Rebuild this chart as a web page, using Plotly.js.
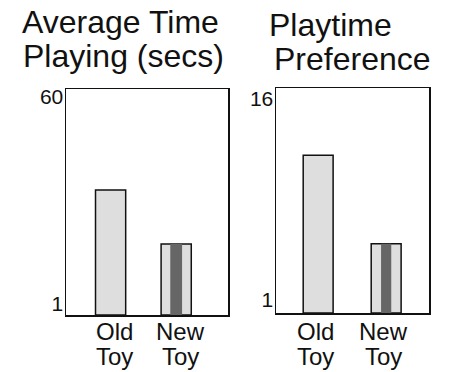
<!DOCTYPE html>
<html>
<head>
<meta charset="utf-8">
<script src="https://cdn.plot.ly/plotly-3.0.1.min.js"></script>
<style>html,body{margin:0;padding:0;background:#fff;}#chart{width:452px;height:372px;}</style>
</head>
<body>
<div id="chart"></div>
<script>
// ---- data ----
const categories = ["Old Toy", "New Toy"];
const timeValues = [33.5, 18.1];          // Average Time Playing (secs)
const prefValues = [11.8, 5.2];           // Playtime Preference
const timeTicks = [1, 60];
const prefTicks = [1, 16];
const timeTitle = ["Average Time", "Playing (secs)"];
const prefTitle = ["Playtime", "Preference"];

// ---- layout helpers ----
const timeRange = [-2.1, 62.3];
const prefRange = [0.03, 16.82];
const light = "#dedede", dark = "#666666";

function mainBar(vals, xa, ya, base, w) {
  return {
    type: "bar", x: categories, y: vals.map(v => v - base), base: base,
    xaxis: xa, yaxis: ya, width: w,
    marker: {color: light, line: {color: "#111", width: 1.5}},
    hoverinfo: "skip", showlegend: false
  };
}
function stripeBar(vals, xa, ya, base, w) {
  // narrow dark stripe inside the New Toy bar
  return {
    type: "bar", x: [categories[1]], y: [vals[1] - base], base: base,
    xaxis: xa, yaxis: ya, width: w,
    marker: {color: dark, line: {width: 0}},
    hoverinfo: "skip", showlegend: false
  };
}

const traces = [
  mainBar(timeValues, "x", "y", timeRange[0], 0.46),
  stripeBar(timeValues, "x", "y", timeRange[0], 0.18),
  mainBar(prefValues, "x2", "y2", prefRange[0], 0.44),
  stripeBar(prefValues, "x2", "y2", prefRange[0], 0.15)
];

const axisFont = {family: "Liberation Sans, Arial, sans-serif", size: 21, color: "#111"};
function xAxis(dom, rng) {
  return {domain: dom, type: "category", categoryorder: "array", categoryarray: categories,
    range: rng, showline: true, mirror: true, linecolor: "#111", linewidth: 1.5,
    showgrid: false, zeroline: false, ticks: "", showticklabels: false, fixedrange: true};
}
function yAxis(dom, rng, ticks, anchor) {
  return {domain: dom, range: rng, tickmode: "array", tickvals: ticks, ticktext: ticks.map(String),
    showline: true, mirror: true, linecolor: "#111", linewidth: 1.5, anchor: anchor,
    showgrid: false, zeroline: false, ticks: "", tickfont: axisFont, ticklabelstandoff: -3, fixedrange: true};
}

const titleFont = {family: "Liberation Sans, Arial, sans-serif", size: 32, color: "#111"};
const catFont = {family: "Liberation Sans, Arial, sans-serif", size: 24, color: "#111"};
const annotations = [];
// titles
annotations.push({text: timeTitle[0], xref: "paper", yref: "paper", x: 0.044, y: 0.941, xanchor: "left", yanchor: "middle", showarrow: false, font: titleFont});
annotations.push({text: timeTitle[1], xref: "paper", yref: "paper", x: 0.046, y: 0.850, xanchor: "left", yanchor: "middle", showarrow: false, font: titleFont});
annotations.push({text: prefTitle[0], xref: "paper", yref: "paper", x: 0.732, y: 0.933, xanchor: "center", yanchor: "middle", showarrow: false, font: titleFont});
annotations.push({text: prefTitle[1], xref: "paper", yref: "paper", x: 0.779, y: 0.841, xanchor: "center", yanchor: "middle", showarrow: false, font: titleFont});
// category labels, one line per word
[["x", 4], ["x2", -3]].forEach(([xa, shift]) => {
  categories.forEach(c => {
    const words = c.split(" ");
    annotations.push({text: words[0], xref: xa, yref: "paper", x: c, y: 0.109, xshift: shift, xanchor: "center", yanchor: "middle", showarrow: false, font: catFont});
    annotations.push({text: words[1], xref: xa, yref: "paper", x: c, y: 0.041, xshift: shift, xanchor: "center", yanchor: "middle", showarrow: false, font: catFont});
  });
});

const layout = {
  width: 452, height: 372,
  margin: {l: 0, r: 0, t: 0, b: 0},
  paper_bgcolor: "#ffffff", plot_bgcolor: "#ffffff",
  barmode: "overlay", showlegend: false,
  xaxis: xAxis([66/452, 228/452], [-0.68, 1.79]),
  yaxis: yAxis([1 - 315/372, 1 - 89/372], timeRange, timeTicks, "x"),
  xaxis2: xAxis([276/452, 429/452], [-0.62, 1.63]),
  yaxis2: yAxis([1 - 313/372, 1 - 88/372], prefRange, prefTicks, "x2"),
  annotations: annotations
};
layout.xaxis.anchor = "y";
layout.xaxis2.anchor = "y2";

Plotly.newPlot("chart", traces, layout, {staticPlot: true, displayModeBar: false});
</script>
</body>
</html>
